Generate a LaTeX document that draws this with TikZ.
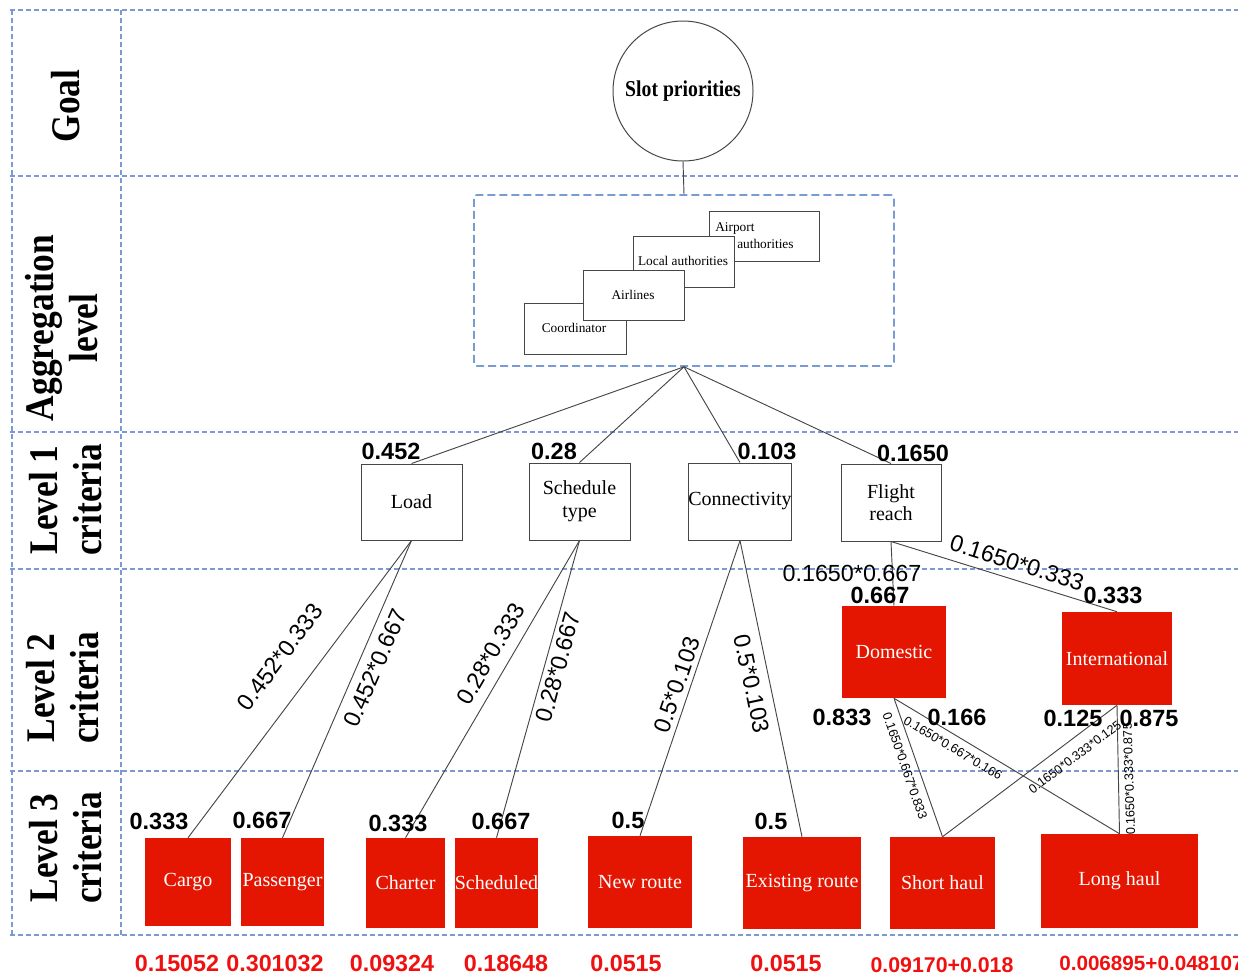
\documentclass[tikz,border=0pt]{standalone}
\usepackage{fontspec}
\setmainfont{Liberation Serif}
\setsansfont{Liberation Sans}
\newfontfamily\rowfont[FakeStretch=0.87]{Liberation Serif}
\definecolor{gridblue}{RGB}{122,154,212}
\definecolor{boxred}{RGB}{228,22,2}
\definecolor{valred}{RGB}{240,16,16}
\definecolor{edgegray}{RGB}{70,70,70}
\begin{document}
\begin{tikzpicture}[x=0.75pt,y=-0.75pt,
  gridline/.style={gridblue, line width=0.9pt, dash pattern=on 3.5pt off 2.5pt},
  rowlabel/.style={font=\rowfont\bfseries\fontsize{30.5}{33}\selectfont, rotate=90, align=center, inner sep=0pt},
  lonebox/.style={draw=edgegray, line width=0.75pt, fill=white, font=\fontsize{15}{18}\selectfont, align=center, inner sep=0pt, minimum width=75.75pt, minimum height=57pt},
  aggbox/.style={draw=edgegray, line width=0.7pt, fill=white, inner sep=0pt, font=\fontsize{10}{12}\selectfont},
  redbox/.style={fill=boxred, text=white, inner sep=0pt, font=\fontsize{15}{18}\selectfont},
  wt/.style={font=\sffamily\bfseries\fontsize{17.6}{20}\selectfont, inner sep=0pt},
  elabel/.style={font=\sffamily\fontsize{17.5}{20}\selectfont, inner sep=0pt},
  slabel/.style={font=\sffamily\fontsize{9.5}{11}\selectfont, inner sep=0pt},
  val/.style={font=\sffamily\bfseries\fontsize{17.5}{20}\selectfont, text=valred, inner sep=0pt},
  valsmall/.style={font=\sffamily\bfseries\fontsize{16}{18}\selectfont, text=valred, inner sep=0pt},
  link/.style={draw=edgegray, line width=0.7pt}
]
\useasboundingbox (0,0) rectangle (1238,976);

% grid
\foreach \yy in {10,176,432,569,771,935} \draw[gridline] (10,\yy) -- (1238,\yy);
\draw[gridline] (12,10) -- (12,935);
\draw[gridline] (121,10) -- (121,935);

% row labels
\node[rowlabel] (rgoal) at (66,106) {Goal};
\node[rowlabel] (ragg) at (62,328) {Aggregation\\level};
\node[rowlabel] (rlone) at (66,500) {Level 1\\criteria};
\node[rowlabel] (rltwo) at (63,688) {Level 2\\criteria};
\node[rowlabel] (rlthree) at (66,848) {Level 3\\criteria};

% goal
\node[circle, draw=edgegray, line width=0.75pt, minimum size=105pt, inner sep=0pt,
      font=\rowfont\bfseries\fontsize{17}{20}\selectfont] (goal) at (683,91) {Slot priorities};

% aggregation box
\node[draw=gridblue, line width=1.2pt, dash pattern=on 6pt off 3pt, rounded corners=2pt,
      minimum width=315pt, minimum height=128.25pt, inner sep=0pt] (agg) at (684,280.5) {};
\node[aggbox, minimum width=82.5pt, minimum height=37.5pt] (airport) at (764,236) {};
\node[aggbox, minimum width=75.75pt, minimum height=38.25pt] (local) at (683.5,261.5) {};
\node[aggbox, minimum width=76.5pt, minimum height=38.25pt] (coord) at (575,328.5) {};
\node[aggbox, minimum width=75.75pt, minimum height=37.5pt] (airl) at (633.5,295) {};
\node[font=\fontsize{10}{12}\selectfont, inner sep=0pt, anchor=west] (tairport) at (715,228) {Airport};
\node[font=\fontsize{10}{12}\selectfont, inner sep=0pt, anchor=west] (tauth) at (737,244) {authorities};
\node[font=\fontsize{10}{12}\selectfont, inner sep=0pt] (tlocal) at (683,261) {Local authorities};
\node[font=\fontsize{10}{12}\selectfont, inner sep=0pt] (tairl) at (633,295) {Airlines};
\node[font=\fontsize{10}{12}\selectfont, inner sep=0pt] (tcoord) at (574,328) {Coordinator};

\draw[link] (goal.south) -- (agg.north);

% level 1
\node[lonebox] (load) at (411.5,502) {Load};
\node[lonebox, minimum height=57.75pt] (sched) at (579.5,501.5) {Schedule\\[-1pt]type};
\node[lonebox, minimum width=75pt, minimum height=57.75pt] (conn) at (740,501.5) {Connectivity};
\node[lonebox, minimum width=75pt, minimum height=57.75pt] (flight) at (891,502.5) {Flight\\[-1pt]reach};

\draw[link] (agg.south) -- (load.north);
\draw[link] (agg.south) -- (sched.north);
\draw[link] (agg.south) -- (conn.north);
\draw[link] (agg.south) -- (flight.north);

\node[wt] (wload) at (391,451) {0.452};
\node[wt] (wsched) at (554,451) {0.28};
\node[wt] (wconn) at (767,451) {0.103};
\node[wt] (wflight) at (913,453) {0.1650};

% level 2
\node[redbox, minimum width=78pt, minimum height=69pt] (dom) at (894,652) {Domestic};
\node[redbox, minimum width=82.5pt, minimum height=69.75pt] (intl) at (1117,658.5) {International};

% level 3
\node[redbox, minimum width=64.5pt, minimum height=66pt] (cargo) at (188,882) {Cargo};
\node[redbox, minimum width=62.25pt, minimum height=66pt] (pass) at (282.5,882) {Passenger};
\node[redbox, minimum width=59.25pt, minimum height=67.5pt] (charter) at (405.5,883) {Charter};
\node[redbox, minimum width=60.75pt, minimum height=67.5pt] (schedd) at (496.5,883) {Scheduled};
\node[redbox, minimum width=78pt, minimum height=69pt] (newr) at (640,882) {New route};
\node[redbox, minimum width=88.5pt, minimum height=69pt] (exist) at (802,883) {Existing route};
\node[redbox, minimum width=78.75pt, minimum height=69pt] (short) at (942.5,883) {Short haul};
\node[redbox, minimum width=117.75pt, minimum height=70.5pt] (long) at (1119.5,881) {Long haul};

% connectors level1 -> lower
\draw[link] (load.south) -- (cargo.north);
\draw[link] (load.south) -- (pass.north);
\draw[link] (sched.south) -- (charter.north);
\draw[link] (sched.south) -- (schedd.north);
\draw[link] (conn.south) -- (newr.north);
\draw[link] (conn.south) -- (exist.north);
\draw[link] (flight.south) -- (dom.north);
\draw[link] (flight.south) -- (intl.north);
\draw[link] (dom.south) -- (short.north);
\draw[link] (dom.south) -- (long.north);
\draw[link] (intl.south) -- (short.north);
\draw[link] (intl.south) -- (long.north);

% edge labels
\node[elabel, rotate=53.2] (eone) at (280,657) {0.452*0.333};
\node[elabel, rotate=66.6] (etwo) at (375,668) {0.452*0.667};
\node[elabel, rotate=59.9] (ethree) at (491,654) {0.28*0.333};
\node[elabel, rotate=74.6] (efour) at (558,667) {0.28*0.667};
\node[elabel, rotate=71.2] (efive) at (677,685) {0.5*0.103};
\node[elabel, rotate=-78.1] (esix) at (752,684) {0.5*0.103};
\node[elabel] (eseven) at (852,573) {0.1650*0.667};
\node[elabel, rotate=-17.5] (eeight) at (1017,563) {0.1650*0.333};

\node[slabel, rotate=-70.7] (sone) at (905,766) {0.1650*0.667*0.833};
\node[slabel, rotate=-30.9] (stwo) at (953,748) {0.1650*0.667*0.166};
\node[slabel, rotate=37] (sthree) at (1075,757) {0.1650*0.333*0.125};
\node[slabel, rotate=91.8] (sfour) at (1129,779) {0.1650*0.333*0.875};

% weights
\node[wt] (wdom) at (880,595) {0.667};
\node[wt] (wintl) at (1113,595) {0.333};
\node[wt] (wa) at (842,717) {0.833};
\node[wt] (wb) at (957,717) {0.166};
\node[wt] (wc) at (1073,718) {0.125};
\node[wt] (wd) at (1149,718) {0.875};
\node[wt] (wcargo) at (159,821) {0.333};
\node[wt] (wpass) at (262,820) {0.667};
\node[wt] (wcharter) at (398,823) {0.333};
\node[wt] (wschedd) at (501,821) {0.667};
\node[wt] (wnewr) at (628,820) {0.5};
\node[wt] (wexist) at (771,821) {0.5};

% bottom values
\node[val] (vone) at (177,963) {0.15052};
\node[val] (vtwo) at (275,963) {0.301032};
\node[val] (vthree) at (392,963) {0.09324};
\node[val] (vfour) at (506,963) {0.18648};
\node[val] (vfive) at (626,963) {0.0515};
\node[val] (vsix) at (786,963) {0.0515};
\node[valsmall] (vseven) at (942,965) {0.09170+0.018};
\begin{scope}
\clip (0,0) rectangle (1238,976);
\node[valsmall, font=\sffamily\bfseries\fontsize{15.5}{18}\selectfont, anchor=west] (veight) at (1059,963) {0.006895+0.048107};
\end{scope}
\end{tikzpicture}
\end{document}
